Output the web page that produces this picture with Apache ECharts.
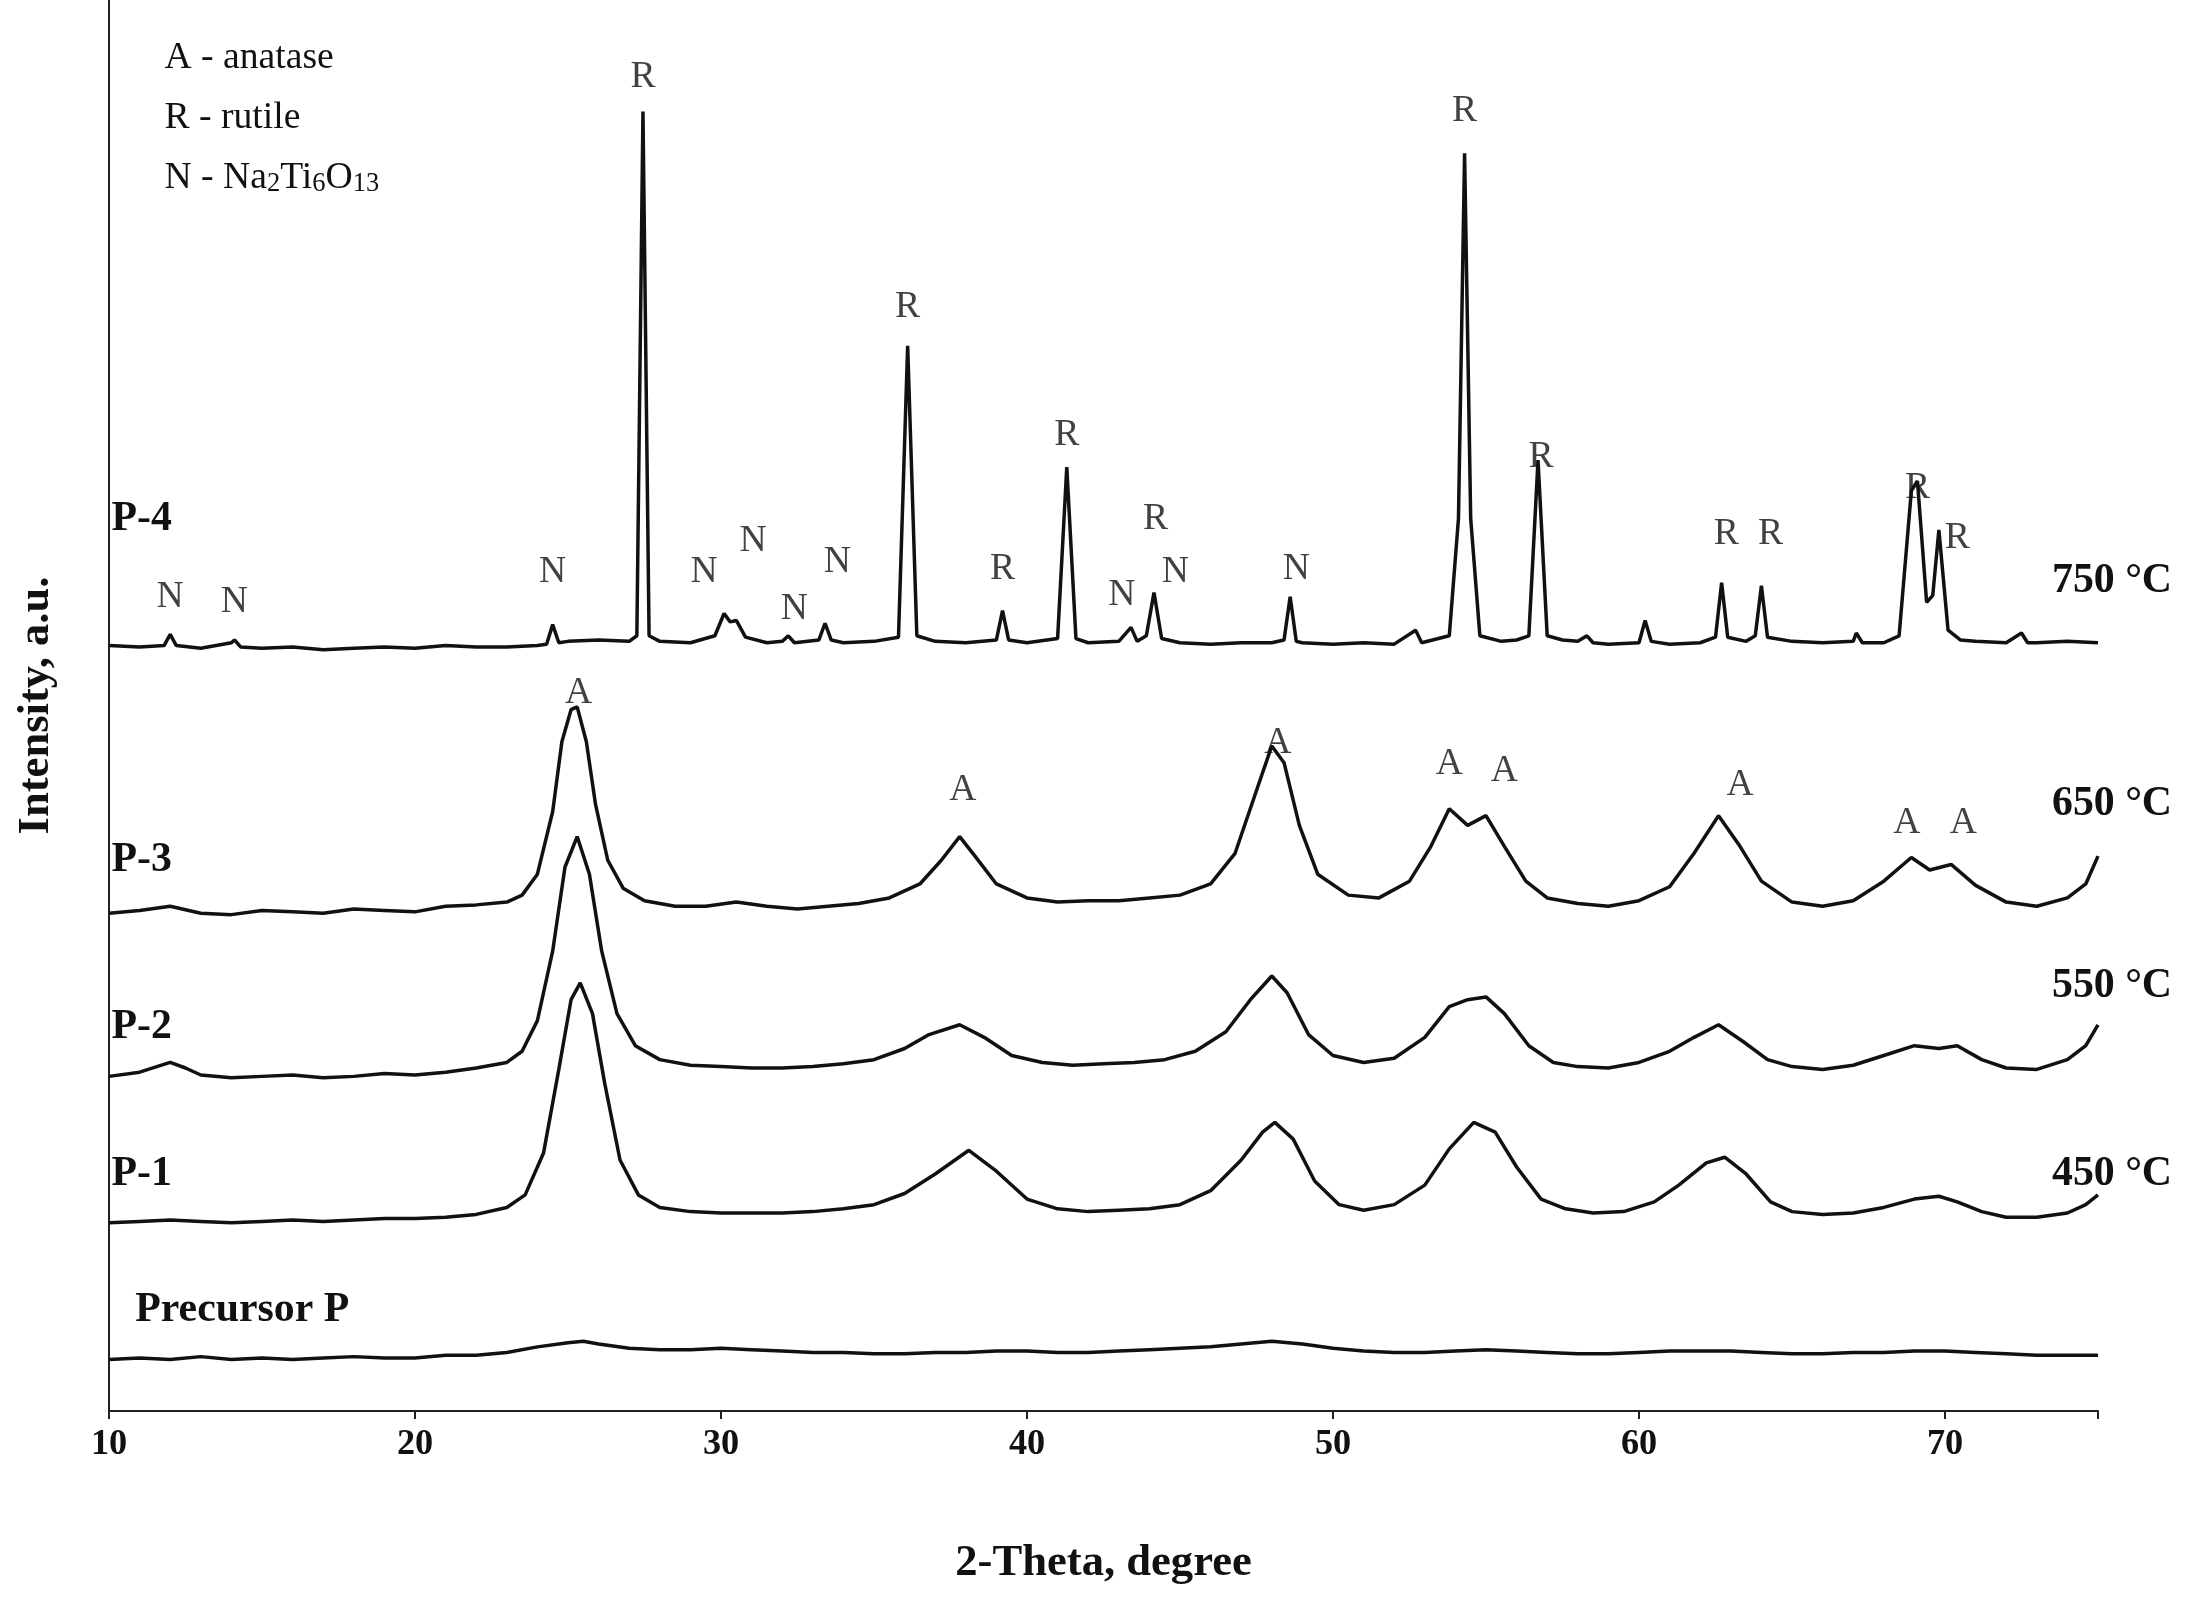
<!DOCTYPE html>
<html><head><meta charset="utf-8">
<script src="https://cdn.jsdelivr.net/npm/echarts@6/dist/echarts.min.js"></script>
<style>html,body{margin:0;padding:0;background:#fff}#c{width:2186px;height:1608px}</style>
</head><body><div id="c"></div>
<script>
const xTicks=[10,20,30,40,50,60,70];
const p4=[[10,549],[11,548],[11.8,549],[12,557],[12.2,549],[13,547],[14,551],[14.1,553],[14.3,548],[15,547],[16,548],[17,546],[18,547],[19,548],[20,547],[21,549],[22,548],[23,548],[24,549],[24.3,550],[24.5,564],[24.7,551],[25,552],[26,553],[27,552],[27.25,556],[27.45,932],[27.65,556],[28,552],[29,551],[29.8,556],[30.1,572],[30.3,566],[30.5,567],[30.8,555],[31.5,551],[32,552],[32.2,556],[32.4,551],[33.2,553],[33.4,565],[33.6,553],[34,551],[35,552],[35.8,555],[36.1,764],[36.4,556],[37,552],[38,551],[39,553],[39.2,574],[39.4,553],[40,551],[41,554],[41.3,677],[41.6,554],[42,551],[43,552],[43.4,562],[43.6,552],[43.9,556],[44.15,587],[44.4,554],[45,551],[46,550],[47,551],[48,551],[48.4,553],[48.6,584],[48.8,552],[49,551],[50,550],[51,551],[52,550],[52.7,560],[52.9,551],[53.8,556],[54.1,640],[54.3,902],[54.5,640],[54.8,556],[55.5,552],[56,553],[56.4,556],[56.7,682],[57,556],[57.5,553],[58,552],[58.3,556],[58.5,551],[59,550],[60,551],[60.2,567],[60.4,552],[61,550],[62,551],[62.5,555],[62.7,594],[62.9,555],[63.5,552],[63.8,556],[64.0,592],[64.2,555],[65,552],[66,551],[67,552],[67.1,558],[67.3,551],[68,551],[68.5,556],[68.9,660],[69.1,667],[69.4,580],[69.6,585],[69.8,632],[70.1,560],[70.5,553],[71,552],[72,551],[72.5,558],[72.7,551],[73,551],[74,552],[75,551]];
const p3=[[10,357],[11,359],[12,362],[13,357],[14,356],[15,359],[16,358],[17,357],[18,360],[19,359],[20,358],[21,362],[22,363],[23,365],[23.5,370],[24,385],[24.5,430],[24.8,480],[25.1,503],[25.3,505],[25.6,480],[25.9,435],[26.3,395],[26.8,375],[27.5,366],[28.5,362],[29.5,362],[30.5,365],[31.5,362],[32.5,360],[33.5,362],[34.5,364],[35.5,368],[36.5,378],[37.2,395],[37.8,412],[38.3,398],[39,378],[40,368],[41,365],[42,366],[43,366],[44,368],[45,370],[46,378],[46.8,400],[47.5,445],[48.0,477],[48.4,465],[48.9,420],[49.5,385],[50.5,370],[51.5,368],[52.5,380],[53.2,405],[53.8,432],[54.4,420],[55.0,427],[55.6,405],[56.3,380],[57,368],[58,364],[59,362],[60,366],[61,376],[61.8,400],[62.6,427],[63.3,405],[64,380],[65,365],[66,362],[67,366],[68,380],[68.9,397],[69.5,388],[70.2,392],[71,377],[72,365],[73,362],[74,368],[74.6,378],[75,398]];
const p2=[[10,240],[11,243],[12,250],[12.5,246],[13,241],[14,239],[15,240],[16,241],[17,239],[18,240],[19,242],[20,241],[21,243],[22,246],[23,250],[23.5,258],[24,280],[24.5,330],[24.9,390],[25.3,412],[25.7,385],[26.1,330],[26.6,285],[27.2,262],[28,252],[29,248],[30,247],[31,246],[32,246],[33,247],[34,249],[35,252],[36,260],[36.8,270],[37.8,277],[38.6,268],[39.5,255],[40.5,250],[41.5,248],[42.5,249],[43.5,250],[44.5,252],[45.5,258],[46.5,272],[47.3,295],[48.0,312],[48.5,300],[49.2,270],[50,255],[51,250],[52,253],[53,268],[53.8,290],[54.4,295],[55.0,297],[55.6,285],[56.4,262],[57.2,250],[58,247],[59,246],[60,250],[61,258],[61.8,268],[62.6,277],[63.4,265],[64.2,252],[65,247],[66,245],[67,248],[68,255],[69,262],[69.8,260],[70.4,262],[71.2,252],[72,246],[73,245],[74,252],[74.6,262],[75,277]];
const p1=[[10,135],[11,136],[12,137],[13,136],[14,135],[15,136],[16,137],[17,136],[18,137],[19,138],[20,138],[21,139],[22,141],[23,146],[23.6,155],[24.2,185],[24.7,245],[25.1,295],[25.4,307],[25.8,285],[26.2,235],[26.7,180],[27.3,155],[28,146],[29,143],[30,142],[31,142],[32,142],[33,143],[34,145],[35,148],[36,156],[37,170],[38.1,187],[39,172],[40,152],[41,145],[42,143],[43,144],[44,145],[45,148],[46,158],[47,180],[47.7,200],[48.1,207],[48.7,195],[49.4,165],[50.2,148],[51,144],[52,148],[53,162],[53.8,188],[54.6,207],[55.3,200],[56,175],[56.8,152],[57.6,145],[58.5,142],[59.5,143],[60.5,150],[61.3,162],[62.2,178],[62.8,182],[63.5,170],[64.3,150],[65,143],[66,141],[67,142],[68,146],[69,152],[69.8,154],[70.4,150],[71.2,143],[72,139],[73,139],[74,142],[74.6,148],[75,155]];
const pp=[[10,37],[11,38],[12,37],[13,39],[14,37],[15,38],[16,37],[17,38],[18,39],[19,38],[20,38],[21,40],[22,40],[23,42],[24,46],[25,49],[25.5,50],[26,48],[27,45],[28,44],[29,44],[30,45],[31,44],[32,43],[33,42],[34,42],[35,41],[36,41],[37,42],[38,42],[39,43],[40,43],[41,42],[42,42],[43,43],[44,44],[45,45],[46,46],[47,48],[48,50],[49,48],[50,45],[51,43],[52,42],[53,42],[54,43],[55,44],[56,43],[57,42],[58,41],[59,41],[60,42],[61,43],[62,43],[63,43],[64,42],[65,41],[66,41],[67,42],[68,42],[69,43],[70,43],[71,42],[72,41],[73,40],[74,40],[75,40]];
const annX=[12.0,14.1,24.5,27.45,29.45,31.05,32.4,33.8,36.1,39.2,41.3,43.1,44.2,44.85,48.8,54.3,56.8,62.85,64.3,69.1,70.4,25.35,37.9,48.2,53.8,55.6,63.3,68.75,70.6];
const annY=[584,580,602,957,602,624,575,609,792,604,700,585,640,602,604,932,684,629,629,662,626,515,445,479,464,459,449,422,422];
const annT=['N','N','N','R','N','N','N','N','R','R','R','N','R','N','N','R','R','R','R','R','R','A','A','A','A','A','A','A','A'];
const sampleNames=['P-4','P-3','P-2','P-1','Precursor P'];
const tempNames=['750 °C','650 °C','550 °C','450 °C'];

const S=2186/1568;
const F="'Liberation Serif','DejaVu Serif',serif";
const ch=echarts.init(document.getElementById('c'));
const line=d=>({type:'line',data:d,symbol:'none',lineStyle:{color:'#111',width:3.5},silent:true});
const g=[];
const sPos=[[80,375],[80,620],[80,740],[80,845],[97,943]];
sampleNames.forEach((t,i)=>g.push({type:'text',left:sPos[i][0]*S,top:(sPos[i][1]-18)*S,style:{text:t,font:'bold '+(30*S)+'px '+F,fill:'#111'}}));
const tPos=[420,580,710,845];
tempNames.forEach((t,i)=>g.push({type:'text',right:(1568-1558)*S,top:(tPos[i]-18)*S,style:{text:t,font:'bold '+(30*S)+'px '+F,fill:'#111'}}));
g.push({type:'text',left:118*S,top:28*S,style:{text:'A - anatase',font:(27*S)+'px '+F,fill:'#111'}});
g.push({type:'text',left:118*S,top:71*S,style:{text:'R - rutile',font:(27*S)+'px '+F,fill:'#111'}});
g.push({type:'text',left:118*S,top:114*S,style:{text:'N - Na{s|2}Ti{s|6}O{s|13}',font:(27*S)+'px '+F,fill:'#111',rich:{s:{fontSize:19*S,fontFamily:F,fill:'#111',verticalAlign:'bottom',padding:[8*S,0,0,0]}}}});
ch.setOption({
 animation:false,backgroundColor:'#fff',
 grid:{left:109,right:88,top:0,bottom:197},
 xAxis:{type:'value',min:10,max:75,interval:10,
  axisLine:{lineStyle:{color:'#222',width:2}},axisTick:{length:8,lineStyle:{color:'#222',width:2}},splitLine:{show:false},
  axisLabel:{color:'#111',fontFamily:F,fontWeight:'bold',fontSize:26*S,margin:16,customValues:xTicks},
  name:'2-Theta, degree',nameLocation:'middle',nameGap:130,nameTextStyle:{color:'#111',fontFamily:F,fontWeight:'bold',fontSize:32*S}},
 yAxis:{type:'value',min:0,max:1012,axisLine:{show:true,lineStyle:{color:'#222',width:2}},axisTick:{show:false},axisLabel:{show:false},splitLine:{show:false},
  name:'Intensity, a.u.',nameLocation:'middle',nameGap:50,nameTextStyle:{color:'#111',fontFamily:F,fontWeight:'bold',fontSize:32*S}},
 series:[line(p4),line(p3),line(p2),line(p1),line(pp),
  {type:'scatter',symbolSize:0,silent:true,data:annX.map((x,i)=>[x,annY[i],annT[i]]),
   label:{show:true,position:'inside',formatter:p=>p.value[2],color:'#111',fontFamily:F,fontSize:27*S}}],
 graphic:g
});
</script></body></html>
